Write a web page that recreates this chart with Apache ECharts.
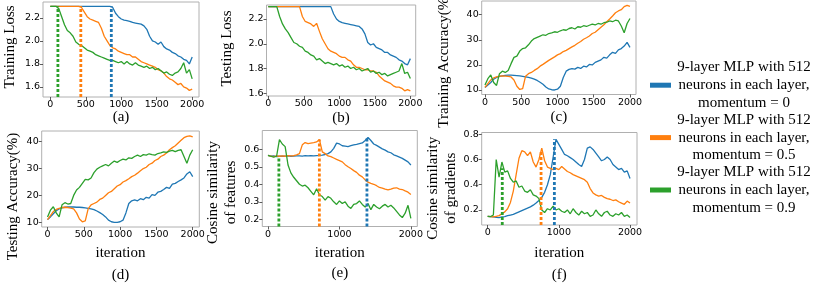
<!DOCTYPE html>
<html><head><meta charset="utf-8">
<script src="https://cdn.jsdelivr.net/npm/echarts@6/dist/echarts.min.js"></script>
<style>html,body{margin:0;padding:0;background:#fff}#c{width:814px;height:283px}</style>
</head><body><div id="c"></div>
<script>
const iterations = [0,40,80,120,160,200,240,280,320,360,400,440,480,520,560,600,640,680,720,760,800,840,880,920,960,1000,1040,1080,1120,1160,1200,1240,1280,1320,1360,1400,1440,1480,1520,1560,1600,1640,1680,1720,1760,1800,1840,1880,1920,1960,2000];
const legendNames = ['9-layer MLP with 512 neurons in each layer, momentum = 0','9-layer MLP with 512 neurons in each layer, momentum = 0.5','9-layer MLP with 512 neurons in each layer, momentum = 0.9'];
const legendLines = [['9-layer MLP with 512','neurons in each layer,','momentum = 0'],['9-layer MLP with 512','neurons in each layer,','momentum = 0.5'],['9-layer MLP with 512','neurons in each layer,','momentum = 0.9']];
const captions = ['(a)','(b)','(c)','(d)','(e)','(f)'];
const yNames = ['Training Loss','Testing Loss','Training Accuracy(%)','Testing Accuracy(%)','Cosine similarity\nof features','Cosine similarity\nof gradients'];
const xName = 'iteration';
const xTicksFine = [0,500,1000,1500,2000];
const xTicksCoarse = [0,1000,2000];
const yTicksLoss = [1.6,1.8,2.0,2.2];
const yTicksAcc = [10,20,30,40];
const yTicksFeat = [0.2,0.3,0.4,0.5,0.6];
const yTicksGrad = [0.2,0.4,0.6,0.8];

// (a) Training loss
const trainLossM0 = [2.30,2.30,2.30,2.30,2.30,2.30,2.30,2.30,2.30,2.30,
 2.30,2.30,2.30,2.30,2.30,2.30,2.30,2.30,2.30,2.30,
 2.30,2.30,2.29,2.24,2.21,2.19,2.18,2.175,2.17,2.16,
 2.155,2.15,2.145,2.13,2.10,2.04,2.00,1.99,1.97,1.99,
 1.95,1.93,1.92,1.90,1.89,1.87,1.86,1.84,1.83,1.80,
 1.86];
const trainLossM05 = [2.30,2.30,2.30,2.30,2.30,2.30,2.30,2.30,2.30,2.30,
 2.30,2.29,2.25,2.21,2.19,2.18,2.17,2.16,2.11,2.04,
 2.00,1.96,1.94,1.93,1.91,1.90,1.89,1.88,1.88,1.86,
 1.86,1.84,1.82,1.81,1.80,1.79,1.78,1.77,1.75,1.74,
 1.72,1.69,1.67,1.66,1.64,1.62,1.63,1.60,1.59,1.57,
 1.58];
const trainLossM09 = [2.30,2.30,2.30,2.28,2.21,2.14,2.09,2.07,2.04,1.99,
 1.97,1.96,1.94,1.92,1.91,1.90,1.88,1.87,1.86,1.85,
 1.84,1.83,1.83,1.82,1.81,1.82,1.80,1.82,1.80,1.79,
 1.81,1.79,1.78,1.77,1.78,1.76,1.77,1.75,1.76,1.74,
 1.72,1.73,1.71,1.70,1.72,1.73,1.76,1.81,1.72,1.75,
 1.67];
// (b) Testing loss
const testLossM0 = [2.30,2.30,2.30,2.30,2.30,2.30,2.30,2.30,2.30,2.30,
 2.30,2.30,2.30,2.30,2.30,2.30,2.30,2.30,2.30,2.30,
 2.30,2.30,2.30,2.24,2.20,2.18,2.17,2.165,2.16,2.155,
 2.15,2.145,2.14,2.12,2.08,2.01,1.99,2.00,1.97,1.96,
 1.95,1.93,1.93,1.91,1.90,1.89,1.87,1.86,1.84,1.83,
 1.88];
const testLossM05 = [2.30,2.30,2.30,2.30,2.30,2.30,2.30,2.30,2.30,2.30,
 2.30,2.30,2.22,2.18,2.17,2.16,2.14,2.165,2.10,2.04,
 2.00,1.96,1.94,1.93,1.92,1.90,1.89,1.89,1.87,1.86,
 1.83,1.81,1.81,1.80,1.79,1.79,1.78,1.78,1.77,1.74,
 1.72,1.70,1.69,1.68,1.66,1.65,1.65,1.64,1.62,1.63,
 1.62];
const testLossM09 = [2.30,2.30,2.30,2.30,2.22,2.16,2.12,2.09,2.05,2.01,
 2.00,1.98,1.97,1.94,1.93,1.91,1.90,1.87,1.88,1.86,
 1.84,1.85,1.84,1.83,1.84,1.82,1.83,1.81,1.82,1.80,
 1.81,1.79,1.80,1.78,1.79,1.80,1.77,1.78,1.76,1.77,
 1.75,1.76,1.74,1.75,1.76,1.77,1.78,1.84,1.76,1.77,
 1.72];
// (c) Training accuracy
const trainAccM0 = [11.0,12.0,13.0,14.3,15.0,15.4,15.6,15.8,15.9,15.9,
 15.8,15.7,15.6,15.4,15.2,15.0,14.7,14.3,13.8,13.1,
 12.3,11.2,10.4,10.1,10.0,10.3,11.5,15.0,17.5,18.2,
 18.5,18.3,19.0,18.6,19.5,19.2,20.2,20.0,21.0,21.5,
 22.0,23.0,22.7,24.0,25.0,24.6,26.0,26.5,27.5,29.0,
 27.0];
const trainAccM05 = [11.0,12.5,14.0,14.8,15.2,15.5,15.6,15.5,15.4,15.2,
 14.0,11.5,10.2,10.5,15.5,16.5,17.0,17.8,18.5,19.5,
 20.2,21.0,21.8,22.5,23.2,24.0,24.5,25.3,25.8,26.5,
 27.2,27.8,28.6,29.3,30.2,30.8,31.5,32.5,33.0,34.0,
 35.0,36.0,37.2,38.3,39.5,40.8,41.5,42.0,43.2,43.7,
 43.3];
const trainAccM09 = [12.0,14.5,16.0,13.0,11.8,16.5,17.5,17.0,17.8,20.5,
 23.0,23.5,25.5,26.5,26.8,28.0,29.5,30.5,31.0,31.5,
 32.0,31.8,32.5,32.8,33.2,33.0,33.6,34.0,33.8,34.5,
 34.8,34.3,35.2,35.0,35.6,35.3,35.8,36.2,35.9,36.5,
 36.2,36.8,37.0,37.5,37.2,37.8,37.5,35.5,32.8,36.5,
 38.5];
// (d) Testing accuracy
const testAccM0 = [11.0,12.0,13.2,14.3,15.0,15.4,15.6,15.7,15.7,15.7,
 15.6,15.6,15.5,15.4,15.2,15.0,14.7,14.2,13.6,12.9,
 12.0,10.8,10.2,10.0,10.0,10.2,10.8,13.5,17.0,18.0,
 18.3,18.0,18.8,18.4,19.3,19.0,20.3,20.0,21.2,21.5,
 22.2,23.0,22.6,24.2,24.5,25.2,25.8,26.5,28.0,28.8,
 27.0];
const testAccM05 = [11.0,12.5,14.0,14.8,15.2,15.5,15.6,15.5,15.3,15.0,
 13.5,11.2,10.2,10.5,15.0,16.5,17.0,17.5,18.5,19.0,
 20.0,21.0,21.5,22.5,23.5,24.0,25.0,25.5,26.2,27.0,
 27.5,28.3,29.2,30.0,30.5,31.5,32.0,33.0,33.5,34.5,
 35.0,35.8,37.0,37.8,38.5,39.5,40.5,41.5,42.0,42.2,
 41.8];
const testAccM09 = [12.0,14.5,15.8,13.5,12.0,16.5,17.3,16.8,17.0,20.0,
 22.0,23.0,24.5,26.0,25.8,26.5,28.5,29.8,30.5,31.0,
 31.5,31.0,32.0,32.8,32.3,33.0,33.5,33.2,34.0,33.8,
 34.5,35.0,34.5,35.2,35.0,35.5,35.2,35.0,35.6,35.8,
 36.2,36.0,36.5,36.8,36.3,36.8,37.0,34.5,32.0,35.0,
 37.0];
// (e) Cosine similarity of features
const featSimM0 = [0.565,0.560,0.562,0.558,0.560,0.561,0.560,0.562,0.560,0.561,
 0.562,0.562,0.561,0.563,0.562,0.563,0.562,0.564,0.565,0.567,
 0.570,0.575,0.585,0.605,0.635,0.630,0.620,0.618,0.615,0.620,
 0.625,0.628,0.632,0.636,0.650,0.668,0.650,0.630,0.622,0.612,
 0.602,0.595,0.585,0.580,0.568,0.562,0.555,0.548,0.538,0.528,
 0.510];
const featSimM05 = [0.565,0.560,0.558,0.562,0.560,0.562,0.560,0.563,0.562,0.563,
 0.568,0.575,0.625,0.638,0.632,0.635,0.638,0.642,0.655,0.585,
 0.575,0.562,0.558,0.550,0.542,0.535,0.528,0.512,0.500,0.490,
 0.478,0.468,0.452,0.442,0.425,0.412,0.405,0.400,0.392,0.382,
 0.378,0.372,0.368,0.372,0.378,0.380,0.372,0.370,0.362,0.355,
 0.342];
const featSimM09 = [0.565,0.560,0.555,0.560,0.655,0.630,0.615,0.510,0.465,0.440,
 0.420,0.400,0.390,0.395,0.380,0.360,0.340,0.375,0.340,0.330,
 0.310,0.330,0.320,0.300,0.285,0.305,0.290,0.300,0.275,0.262,
 0.285,0.290,0.305,0.285,0.270,0.290,0.255,0.285,0.270,0.260,
 0.275,0.285,0.270,0.280,0.265,0.245,0.225,0.210,0.235,0.280,
 0.205];
// (f) Cosine similarity of gradients
const gradSimM0 = [0.150,0.148,0.145,0.142,0.140,0.145,0.148,0.155,0.160,0.165,
 0.175,0.185,0.195,0.205,0.215,0.225,0.238,0.255,0.275,0.300,
 0.340,0.400,0.480,0.620,0.760,0.720,0.680,0.640,0.630,0.615,
 0.600,0.580,0.560,0.545,0.600,0.690,0.700,0.680,0.650,0.620,
 0.590,0.600,0.620,0.600,0.560,0.540,0.520,0.530,0.500,0.510,
 0.450];
const gradSimM05 = [0.150,0.148,0.145,0.150,0.155,0.170,0.185,0.210,0.260,0.350,
 0.480,0.610,0.670,0.660,0.630,0.660,0.580,0.540,0.600,0.690,
 0.590,0.540,0.530,0.520,0.530,0.520,0.545,0.525,0.505,0.495,
 0.480,0.470,0.460,0.450,0.440,0.420,0.370,0.335,0.320,0.310,
 0.315,0.300,0.290,0.285,0.275,0.280,0.265,0.255,0.245,0.270,
 0.255];
const gradSimM09 = [0.150,0.148,0.160,0.600,0.460,0.580,0.500,0.510,0.450,0.420,
 0.430,0.380,0.390,0.350,0.340,0.360,0.320,0.310,0.290,0.200,
 0.180,0.210,0.200,0.230,0.200,0.210,0.190,0.180,0.200,0.170,
 0.210,0.180,0.160,0.190,0.170,0.180,0.150,0.160,0.200,0.170,
 0.150,0.180,0.190,0.160,0.150,0.170,0.160,0.180,0.150,0.160,
 0.140];
// dotted vertical markers (iteration, top value), order: m0, m0.5, m0.9
const markIterA = [860,430,107];
const markTopA = [2.30,2.30,2.30];
const markIterE = [1385,719,152];
const markTopE = [0.668,0.655,0.555];
const markIterF = [937,750,205];
const markTopF = [0.760,0.660,0.530];

const colors = ['#1f77b4','#ff7f0e','#2ca02c'];
const panels = [
 {s:[trainLossM0,trainLossM05,trainLossM09], xt:xTicksFine, yt:yTicksLoss, dig:1, mi:markIterA, mt:markTopA},
 {s:[testLossM0,testLossM05,testLossM09], xt:xTicksFine, yt:yTicksLoss, dig:1},
 {s:[trainAccM0,trainAccM05,trainAccM09], xt:xTicksFine, yt:yTicksAcc, dig:0},
 {s:[testAccM0,testAccM05,testAccM09], xt:xTicksFine, yt:yTicksAcc, dig:0},
 {s:[featSimM0,featSimM05,featSimM09], xt:xTicksCoarse, yt:yTicksFeat, dig:1, mi:markIterE, mt:markTopE},
 {s:[gradSimM0,gradSimM05,gradSimM09], xt:xTicksCoarse, yt:yTicksGrad, dig:1, mi:markIterF, mt:markTopF}
];
// pad: [left, right] padding of rotated y name -> shifts name up (left) / down (right) by half
const layout = [
 {l:43, t:2, w:156, h:95, xmin:-103, xmax:2096, ymin:1.5125, ymax:2.3375, ng:33, cy:117, pad:[5,0]},
 {l:266.5, t:5, w:149.2, h:91, xmin:-25, xmax:2075, ymin:1.578, ymax:2.313, ng:39.5, cy:118, pad:[4,0]},
 {l:481.7, t:1, w:154.3, h:93.5, xmin:-45, xmax:2083, ymin:8.2, ymax:45.46, ng:37.4, cy:117, pad:[0,25]},
 {l:41.7, t:131, w:157.6, h:96, xmin:-80, xmax:2091, ymin:8.25, ymax:43.98, ng:29, cy:275, xng:26, pad:[0,35]},
 {l:262.3, t:130.5, w:155, h:96, xmin:-80, xmax:2090, ymin:0.159, ymax:0.707, ng:35, cy:273, xng:27, pad:[0,28]},
 {l:481.7, t:132.5, w:155.3, h:92.5, xmin:-84, xmax:2098, ymin:0.081, ymax:0.814, ng:37, cy:275, xng:28.3, pad:[0,19]}
];
const serif = 'Liberation Serif';
const sans = 'DejaVu Sans';
const grids = [], xAxes = [], yAxes = [], series = [], graphics = [];
panels.forEach((p, i) => {
 const L = layout[i];
 grids.push({left:L.l, top:L.t, width:L.w, height:L.h, show:true, borderColor:'#b0b0b0', borderWidth:1, containLabel:false, outerBoundsMode:'none'});
 xAxes.push({type:'value', gridIndex:i, min:L.xmin, max:L.xmax,
  axisLine:{show:false, onZero:false}, splitLine:{show:false},
  axisTick:{show:true, customValues:p.xt, length:3, lineStyle:{color:'#333', width:0.8}},
  axisLabel:{customValues:p.xt, margin:3, fontSize:9.5, color:'#000', fontFamily:sans, formatter: v => String(v)},
  name: i >= 3 ? xName : '', nameLocation:'middle', nameGap: L.xng || 0,
  nameTextStyle:{fontFamily:serif, fontSize:15, color:'#000', verticalAlign:'middle'}});
 yAxes.push({type:'value', gridIndex:i, min:L.ymin, max:L.ymax,
  axisLine:{show:false, onZero:false}, splitLine:{show:false},
  axisTick:{show:true, customValues:p.yt, length:3, lineStyle:{color:'#333', width:0.8}},
  axisLabel:{customValues:p.yt, margin:3, fontSize:9.5, color:'#000', fontFamily:sans,
   formatter: v => Number(v).toFixed(p.dig)},
  name: yNames[i], nameLocation:'middle', nameGap:L.ng,
  nameTextStyle:{fontFamily:serif, fontSize:15, color:'#000', lineHeight:18, verticalAlign:'middle', align:'center',
   padding:[0, L.pad[1], 0, L.pad[0]]}});
 p.s.forEach((vals, k) => {
  series.push({type:'line', name:legendNames[k], xAxisIndex:i, yAxisIndex:i,
   data: iterations.map((x, j) => [x, vals[j]]), showSymbol:false, symbol:'none',
   lineStyle:{color:colors[k], width:1.3}, itemStyle:{color:colors[k]}, z:2});
 });
 if (p.mi) {
  p.mi.forEach((x, k) => {
   series.push({type:'line', name:'marker'+i+'_'+k, xAxisIndex:i, yAxisIndex:i,
    data:[[x, L.ymin],[x, p.mt[k]]], showSymbol:false, symbol:'none',
    lineStyle:{color:colors[k], width:2.8, type:[3,2]}, z:3});
  });
 }
 graphics.push({type:'text', x:L.l + L.w/2, y:L.cy,
  style:{text:captions[i], font:'15px "Liberation Serif"', fill:'#000', align:'center', verticalAlign:'middle', textAlign:'center', textVerticalAlign:'middle'}});
});

const chart = echarts.init(document.getElementById('c'), null, {renderer:'canvas'});
chart.setOption({
 animation:false,
 backgroundColor:'#fff',
 grid:grids, xAxis:xAxes, yAxis:yAxes, series:series, graphic:graphics,
 legend:{show:true, data:legendNames, orient:'vertical', left:650, top:60, padding:0,
  itemWidth:21, itemHeight:5, itemGap:2, icon:'rect', selectedMode:false,
  formatter: name => legendLines[legendNames.indexOf(name)].map(t => '{t|' + t + '}').join('\n'),
  textStyle:{fontFamily:serif, fontSize:15, color:'#000',
   rich:{t:{width:136, align:'center', fontFamily:serif, fontSize:15, lineHeight:17.7, color:'#000'}}}}
});
</script>
</body></html>
